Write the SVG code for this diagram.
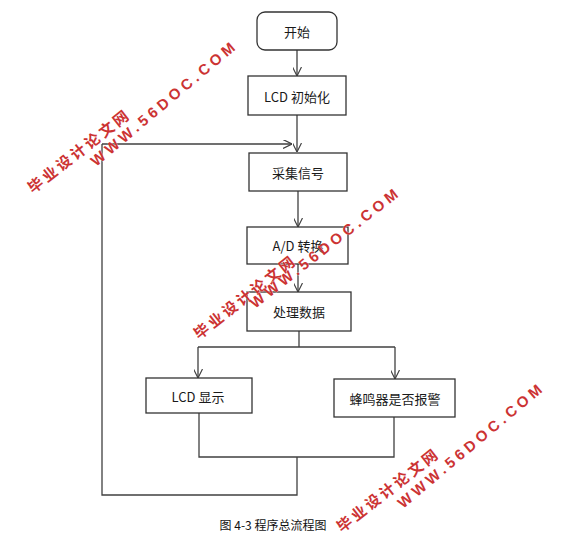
<svg xmlns="http://www.w3.org/2000/svg" width="575" height="557" viewBox="0 0 575 557">
<style>
.box{fill:#fff;stroke:#333;stroke-width:1.3}
.ln{fill:none;stroke:#404040;stroke-width:1.3}
.lbl{font-family:"Noto Sans CJK SC","Noto Sans",sans-serif;font-size:13px;fill:#1a1a1a;text-anchor:middle;dominant-baseline:central}
.cap{font-family:"Noto Sans CJK SC",sans-serif;font-size:12px;fill:#111;text-anchor:middle}
.wm{font-family:"Liberation Sans","Noto Sans CJK SC",sans-serif;font-weight:bold;fill:#cc3333;stroke:#fff;stroke-width:0.4;paint-order:stroke}
.wmc{font-size:15px;letter-spacing:3px}
.wme{font-size:15px;letter-spacing:4px}
</style>
<defs>
<marker id="arr" viewBox="0 0 10 10" refX="10" refY="5" markerWidth="9" markerHeight="9" markerUnits="userSpaceOnUse" orient="auto">
<path d="M0,0 L10,5 L0,10" fill="none" stroke="#404040" stroke-width="1.3"/>
</marker>
</defs>
<rect width="575" height="557" fill="#fff"/>
<g id="connectors">
<path class="ln" d="M297,50 V76" marker-end="url(#arr)"/>
<path class="ln" d="M297,115 V152" marker-end="url(#arr)"/>
<path class="ln" d="M102,144 H292" marker-end="url(#arr)"/>
<path class="ln" d="M298,191 V227" marker-end="url(#arr)"/>
<path class="ln" d="M298,264 V292" marker-end="url(#arr)"/>
<path class="ln" d="M299,331 V347"/>
<path class="ln" d="M198,347 H395"/>
<path class="ln" d="M198,347 V378" marker-end="url(#arr)"/>
<path class="ln" d="M395,347 V379" marker-end="url(#arr)"/>
<path class="ln" d="M199,413 V457 H394 V417"/>
<path class="ln" d="M297,457 V495 H102 V144"/>
</g>
<g id="start">
<rect class="box" x="257" y="12" width="80" height="38" rx="8" stroke-width="1.6"/>
<text class="lbl" x="297" y="31">开始</text>
</g>
<g id="lcd-init">
<rect class="box" x="248" y="76" width="98" height="39"/>
<text class="lbl" x="297" y="96">LCD 初始化</text>
</g>
<g id="collect">
<rect class="box" x="249" y="153" width="98" height="38"/>
<text class="lbl" x="298" y="172">采集信号</text>
</g>
<g id="ad">
<rect class="box" x="247" y="227" width="101" height="37"/>
<text class="lbl" x="298" y="245">A/D 转换</text>
</g>
<g id="process">
<rect class="box" x="247" y="292" width="104" height="39"/>
<text class="lbl" x="299" y="311">处理数据</text>
</g>
<g id="lcd-show">
<rect class="box" x="146" y="378" width="106" height="35"/>
<text class="lbl" x="198" y="396">LCD 显示</text>
</g>
<g id="buzzer">
<rect class="box" x="334" y="379" width="121" height="38"/>
<text class="lbl" x="395" y="398">蜂鸣器是否报警</text>
</g>
<text class="cap" x="273" y="530">图 4-3 程序总流程图</text>
<g id="watermarks">
<text class="wm wmc" transform="translate(33,194) rotate(-38)">毕业设计论文网</text>
<text class="wm wme" transform="translate(96,167) rotate(-40)">WWW.56DOC.COM</text>
<text class="wm wmc" transform="translate(199,340) rotate(-38)">毕业设计论文网</text>
<text class="wm wme" transform="translate(255,309) rotate(-38)">WWW.56DOC.COM</text>
<text class="wm wmc" transform="translate(342,533) rotate(-38)">毕业设计论文网</text>
<text class="wm wme" transform="translate(403,509) rotate(-40)">WWW.56DOC.COM</text>
</g>
</svg>
